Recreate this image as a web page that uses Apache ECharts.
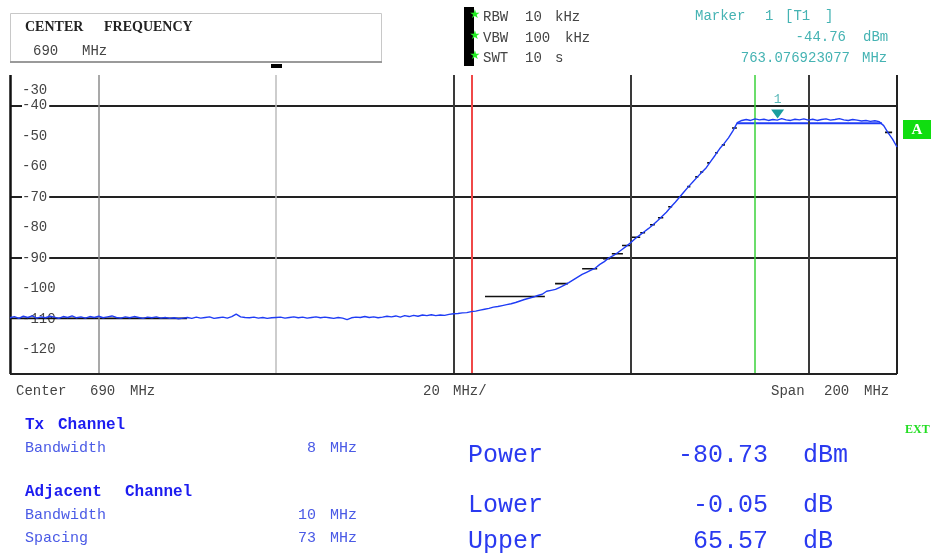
<!DOCTYPE html>
<html><head><meta charset="utf-8">
<script src="https://cdn.jsdelivr.net/npm/echarts@6/dist/echarts.min.js"></script>
<style>html,body{margin:0;padding:0;background:#fff}#c{width:934px;height:553px}</style>
</head><body><div id="c"></div>
<script>
// ---------- data ----------
const freqStart = 590;      // MHz (center 690, span 200)
const freqStep = 1;         // MHz per trace point
const traceDb = [
 -109.6,-109.2,-109.8,-109.1,-109.5,-109.0,-109.7,-109.3,-109.6,-109.1,
 -109.4,-109.8,-109.2,-109.5,-109.0,-109.6,-109.3,-109.7,-109.2,-109.5,
 -109.1,-109.6,-109.3,-109.0,-109.5,-109.7,-109.3,-109.6,-109.2,-109.5,
 -109.8,-109.4,-109.6,-109.3,-109.7,-109.5,-109.8,-109.6,-109.9,-109.7,
 -109.5,-109.8,-109.4,-109.7,-109.5,-109.3,-109.8,-109.6,-109.4,-109.7,
 -109.2,-108.4,-109.3,-109.5,-109.6,-109.4,-109.7,-109.5,-109.8,-109.6,
 -109.5,-109.4,-109.7,-109.5,-109.3,-109.6,-109.4,-109.7,-109.5,-109.3,
 -109.6,-109.4,-109.6,-109.8,-109.5,-109.7,-110.2,-109.6,-109.4,-109.5,
 -109.2,-109.5,-109.3,-109.6,-109.4,-109.1,-109.3,-109.0,-109.4,-108.9,
 -109.2,-108.8,-109.1,-108.7,-108.9,-108.6,-108.9,-108.7,-108.8,-108.5,
 -108.3,-108.2,-108.0,-107.9,-107.6,-107.4,-107.1,-106.8,-106.5,-106.1,
 -105.9,-105.6,-105.3,-105.0,-104.6,-104.1,-103.6,-103.2,-102.8,-102.3,
 -101.9,-100.9,-100.6,-100.3,-99.6,-98.9,-98.1,-97.2,-96.3,-95.4,
 -94.7,-94.0,-93.3,-92.1,-91.2,-90.0,-89.2,-88.3,-87.2,-86.1,
 -84.9,-83.6,-82.5,-81.4,-80.3,-79.1,-77.8,-76.4,-75.0,-73.3,
 -71.7,-70.0,-68.3,-66.6,-65.0,-63.4,-61.9,-60.4,-58.3,-56.3,
 -54.2,-52.5,-50.6,-48.3,-45.6,-44.9,-44.6,-44.9,-44.4,-44.7,
 -44.5,-44.9,-44.6,-44.8,-44.3,-44.7,-44.9,-44.5,-44.7,-44.4,
 -44.8,-44.5,-44.9,-44.6,-44.4,-44.8,-44.6,-44.3,-44.7,-44.9,
 -44.6,-44.8,-45.1,-44.9,-45.2,-45.0,-45.3,-46.6,-49.0,-51.0,
 -53.6
];
// second (black, stepped) trace: visible segments
const t2Start = [590, 697.1, 712.9, 719.0, 723.7, 725.7, 728.0, 730.2, 732.1, 734.3, 736.1, 738.4, 740.6, 742.7, 744.5, 745.6, 747.2, 749.0, 750.5, 752.8, 787.3];
const t2End   = [629.9, 710.6, 715.8, 722.4, 725.3, 728.2, 729.8, 732.1, 733.2, 735.4, 737.3, 739.3, 741.5, 743.4, 745.2, 746.3, 747.8, 749.6, 751.2, 753.9, 788.9];
const t2Level = [-109.8, -102.6, -98.4, -93.5, -90.2, -88.6, -85.9, -83.2, -81.7, -79.1, -76.8, -73.2, -70.0, -66.6, -63.4, -61.8, -58.8, -55.5, -52.9, -47.4, -48.8];
// flat solid segment on the plateau
const plateauFreq = [753.9, 786.6];
const plateauDb = -45.8;
// marker
const markerFreq = 763.08, markerDb = -44.76;
// vertical lines
const gridFreqs = [610, 650, 690, 730, 770];
const gridColors = ['#8c8c8c', '#bdbdbd', '#3a3a3a', '#3a3a3a', '#3a3a3a'];
const redLineFreq = 694.1, greenLineFreq = 758.0;
// y axis
const yMin = -130, yMax = -30, yStep = 10;
const yLineLevels = [-90, -70, -40];
// header / footer texts
const settingsNames = ['RBW', 'VBW', 'SWT'];
const settingsValues = ['10', '100', '10'];
const settingsUnits = ['kHz', 'kHz', 's'];
const resultNames = ['Power', 'Lower', 'Upper'];
const resultValues = ['-80.73', '-0.05', '65.57'];
const resultUnits = ['dBm', 'dB', 'dB'];

// ---------- build ----------
const traceData = traceDb.map((v, i) => [freqStart + i * freqStep, v]);
const t2Data = [];
t2Start.forEach((s, i) => { t2Data.push([s, t2Level[i]], [t2End[i], t2Level[i]], [t2End[i], null]); });
const plateauData = [[plateauFreq[0], plateauDb], [plateauFreq[1], plateauDb]];

const mono = "'Liberation Mono','DejaVu Sans Mono',monospace";
const serif = "'Liberation Serif','DejaVu Serif',serif";

const splitColors = [];
for (let v = yMin; v <= yMax; v += yStep) splitColors.push(yLineLevels.indexOf(v) >= 0 ? '#222' : 'rgba(0,0,0,0)');

function vline(f, color, width) {
  return [{ coord: [f, -128], lineStyle: { color: color, width: width, type: 'solid' } }, { coord: [f, -30] }];
}
const markLines = [];
gridFreqs.forEach((f, i) => markLines.push(vline(f, gridColors[i], i < 2 ? 1.5 : 2)));
markLines.push(vline(redLineFreq, '#f04848', 2));
markLines.push(vline(greenLineFreq, '#3ad23a', 1.5));
markLines.push(vline(590, '#111', 2.5));
markLines.push(vline(790, '#222', 2));
markLines.push([{ coord: [590, -128], lineStyle: { color: '#222', width: 2, type: 'solid' } }, { coord: [790, -128] }]);

function T(text, x, y, font, fill, align) {
  return { type: 'text', x: x, y: y, silent: true, z: 10,
    style: { text: text, font: font, fill: fill, align: align || 'left', verticalAlign: 'middle',
             textAlign: align || 'left', textVerticalAlign: 'middle' } };
}
const gray = '#444', teal = '#45b3b3', blueB = '#1c1cf0', blueL = '#4a5ae6', blueBig = '#2a3af0';
const fSmall = '14px ' + mono;
const g = [];
// header box
g.push({ type: 'rect', z: 5, shape: { x: 10.5, y: 13.5, width: 371, height: 48 }, style: { fill: '#fff', stroke: '#c8c8c8', lineWidth: 1 } });
g.push({ type: 'line', z: 6, shape: { x1: 10, y1: 62, x2: 382, y2: 62 }, style: { stroke: '#9a9a9a', lineWidth: 2 } });
g.push({ type: 'rect', z: 6, shape: { x: 271, y: 64, width: 11, height: 4 }, style: { fill: '#000' } });
g.push(T('CENTER', 25, 27, 'bold 14px ' + serif, '#222'));
g.push(T('FREQUENCY', 104, 27, 'bold 14px ' + serif, '#222'));
g.push(T('690', 33, 51, fSmall, gray));
g.push(T('MHz', 82, 51, fSmall, gray));
// settings
g.push({ type: 'rect', z: 5, shape: { x: 464, y: 7, width: 10, height: 59 }, style: { fill: '#000' } });
const sy = [17, 38, 58], valX = [525, 525, 525], unitX = [555, 565, 555];
settingsNames.forEach((n, i) => {
  g.push(T('\u2605', 475, sy[i] - 2, '12px ' + "'DejaVu Sans',sans-serif", '#22ee22', 'center'));
  g.push(T(n, 483, sy[i], fSmall, gray));
  g.push(T(settingsValues[i], valX[i], sy[i], fSmall, gray));
  g.push(T(settingsUnits[i], unitX[i], sy[i], fSmall, gray));
});
// marker info
g.push(T('Marker', 695, 16, fSmall, teal));
g.push(T('1', 765, 16, fSmall, teal));
g.push(T('[T1', 785, 16, fSmall, teal));
g.push(T(']', 825, 16, fSmall, teal));
g.push(T(markerDb.toFixed(2), 846, 37, fSmall, teal, 'right'));
g.push(T('dBm', 863, 37, fSmall, teal));
g.push(T('763.076923077', 850, 58, fSmall, teal, 'right'));
g.push(T('MHz', 862, 58, fSmall, teal));
// A box
g.push({ type: 'rect', z: 5, shape: { x: 903, y: 120, width: 28, height: 19 }, style: { fill: '#10dd10' } });
g.push(T('A', 917, 130, 'bold 15px ' + serif, '#fff', 'center'));
// x axis texts
g.push(T('Center', 16, 391, fSmall, gray));
g.push(T('690', 90, 391, fSmall, gray));
g.push(T('MHz', 130, 391, fSmall, gray));
g.push(T('20', 423, 391, fSmall, gray));
g.push(T('MHz/', 453, 391, fSmall, gray));
g.push(T('Span', 771, 391, fSmall, gray));
g.push(T('200', 824, 391, fSmall, gray));
g.push(T('MHz', 864, 391, fSmall, gray));
// channel info
g.push(T('Tx', 25, 425, 'bold 16px ' + mono, blueB));
g.push(T('Channel', 58, 425, 'bold 16px ' + mono, blueB));
g.push(T('Bandwidth', 25, 448, '15px ' + mono, blueL));
g.push(T('8', 316, 448, '15px ' + mono, blueL, 'right'));
g.push(T('MHz', 330, 448, '15px ' + mono, blueL));
g.push(T('Adjacent', 25, 492, 'bold 16px ' + mono, blueB));
g.push(T('Channel', 125, 492, 'bold 16px ' + mono, blueB));
g.push(T('Bandwidth', 25, 515, '15px ' + mono, blueL));
g.push(T('10', 316, 515, '15px ' + mono, blueL, 'right'));
g.push(T('MHz', 330, 515, '15px ' + mono, blueL));
g.push(T('Spacing', 25, 538, '15px ' + mono, blueL));
g.push(T('73', 316, 538, '15px ' + mono, blueL, 'right'));
g.push(T('MHz', 330, 538, '15px ' + mono, blueL));
// results
const ry = [455, 505, 541];
resultNames.forEach((n, i) => {
  g.push(T(n, 468, ry[i], '25px ' + mono, blueBig));
  g.push(T(resultValues[i], 768, ry[i], '25px ' + mono, blueBig, 'right'));
  g.push(T(resultUnits[i], 803, ry[i], '25px ' + mono, blueBig));
});
g.push(T('EXT', 905, 430, 'bold 12px ' + serif, '#22dd22'));

const chart = echarts.init(document.getElementById('c'));
chart.setOption({
  animation: false,
  backgroundColor: '#fff',
  grid: { left: 10, right: 37, top: 75, bottom: 173 },
  xAxis: { type: 'value', min: 590, max: 790, show: false },
  yAxis: {
    type: 'value', min: yMin, max: yMax, interval: yStep,
    axisLine: { show: false }, axisTick: { show: false },
    splitLine: { show: true, lineStyle: { color: splitColors, width: 2 } },
    axisLabel: {
      inside: true, margin: 12, color: gray, fontFamily: mono, fontSize: 14,
      formatter: function (v) {
        if (v === yMin) return '';
        if (v === yMax) return '{top|' + v + '}';
        return '{n|' + v + '}';
      },
      rich: {
        n: { backgroundColor: '#fff', padding: [0, 2, 0, 0], color: gray, fontFamily: mono, fontSize: 14 },
        top: { padding: [30, 0, 0, 0], color: gray, fontFamily: mono, fontSize: 14 }
      }
    }
  },
  graphic: { elements: g },
  series: [
    { name: 'frame', type: 'line', data: [], z: 1, silent: true,
      markLine: { silent: true, symbol: ['none', 'none'], label: { show: false }, animation: false, data: markLines } },
    { name: 'Trace 2', type: 'line', data: t2Data, symbol: 'none', connectNulls: false, z: 3, silent: true,
      lineStyle: { color: '#111', width: 1.6 } },
    { name: 'Plateau', type: 'line', data: plateauData, symbol: 'none', z: 4, silent: true,
      lineStyle: { color: '#1f3cf5', width: 2 } },
    { name: 'Trace 1', type: 'line', data: traceData, symbol: 'none', z: 5, silent: true,
      lineStyle: { color: '#1f3cf5', width: 1.4 },
      markPoint: {
        silent: true, symbol: 'triangle', symbolRotate: 180, symbolSize: [13, 9], symbolOffset: [0, -6],
        itemStyle: { color: '#1a9e9e' },
        label: { show: true, position: 'top', distance: 3, formatter: '1', color: '#5ab8b8', fontFamily: mono, fontSize: 13 },
        data: [{ coord: [markerFreq, markerDb] }]
      } }
  ]
});
</script></body></html>
